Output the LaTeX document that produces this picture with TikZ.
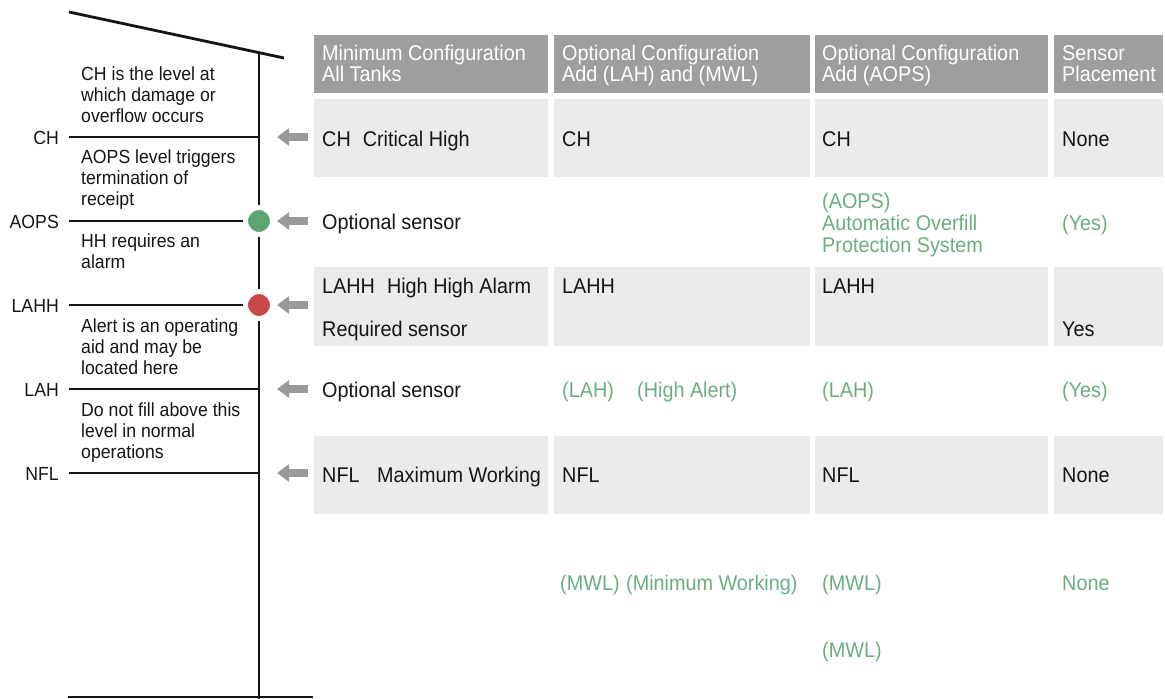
\documentclass[tikz,border=0pt]{standalone}
\usepackage{fontspec}
\setmainfont[FakeStretch=0.93]{Liberation Sans}
\usetikzlibrary{arrows.meta}
\definecolor{hdr}{HTML}{9E9E9E}
\definecolor{cellg}{HTML}{EBEBEB}
\definecolor{grn}{HTML}{6AAE7F}
\definecolor{ink}{HTML}{151515}
\definecolor{arr}{HTML}{9A9A9A}
\definecolor{dotg}{HTML}{5FA574}
\definecolor{dotr}{HTML}{C94848}
\begin{document}
\begin{tikzpicture}[x=1pt,y=-1pt,
  tbl/.style={font=\fontsize{21.3}{22}\selectfont, text=ink, anchor=base west, inner sep=0pt},
  hd/.style={tbl, text=white},
  opt/.style={tbl, text=grn},
  note/.style={font=\fontsize{19}{21}\selectfont, text=ink, anchor=base west, inner sep=0pt},
  lvl/.style={font=\fontsize{19}{21}\selectfont, text=ink, anchor=base east, inner sep=0pt},
  wall/.style={line width=2.8pt, draw=ink},
  levelline/.style={line width=2.6pt, draw=ink},
  pointer/.style={line width=8pt, draw=arr, -{Triangle[width=17pt,length=12pt]}},
  dot/.style={circle, draw=white, line width=5pt, minimum size=27pt, inner sep=0pt},
  hcell/.style={fill=hdr},
  gcell/.style={fill=cellg}]
\useasboundingbox (0,0) rectangle (1165,699);

% ---------- table cells ----------
\foreach \xa/\xb in {314/548,554/810,815/1048,1054/1163}{
  \path[hcell] (\xa,35) rectangle (\xb,93);
  \path[gcell] (\xa,99) rectangle (\xb,177);
  \path[gcell] (\xa,267) rectangle (\xb,346);
  \path[gcell] (\xa,436) rectangle (\xb,514);
}

% ---------- tank ----------
\coordinate (roofL) at (69,12);
\coordinate (roofR) at (284,58);
\coordinate (wallTop) at (259,53);
\coordinate (wallBot) at (259,699);
\coordinate (baseL) at (68,697);
\coordinate (baseR) at (313,697);
\draw[wall] (roofL) -- (roofR);
\draw[wall] (wallTop) -- (wallBot);
\draw[wall] (baseL) -- (baseR);

% level lines
\coordinate (chL) at (69,137);   \coordinate (chR) at (259,137);
\coordinate (aopsL) at (69,221); \coordinate (aopsR) at (259,221);
\coordinate (lahhL) at (69,305); \coordinate (lahhR) at (259,305);
\coordinate (lahL) at (69,389);  \coordinate (lahR) at (259,389);
\coordinate (nflL) at (69,473);  \coordinate (nflR) at (259,473);
\draw[levelline] (chL) -- (chR);
\draw[levelline] (aopsL) -- (aopsR);
\draw[levelline] (lahhL) -- (lahhR);
\draw[levelline] (lahL) -- (lahR);
\draw[levelline] (nflL) -- (nflR);

\node[dot, fill=dotg] (gdot) at (259,221) {};
\node[dot, fill=dotr] (rdot) at (259,305) {};

% level labels
\node[lvl] (lCH) at (59,144) {CH};
\node[lvl] (lAOPS) at (59,228) {AOPS};
\node[lvl] (lLAHH) at (59,312) {LAHH};
\node[lvl] (lLAH) at (59,396) {LAH};
\node[lvl] (lNFL) at (59,480) {NFL};

% notes
\node[note] (n1a) at (81,80) {CH is the level at};
\node[note] (n1b) at (81,101) {which damage or};
\node[note] (n1c) at (81,122) {overflow occurs};
\node[note] (n2a) at (81,163) {AOPS level triggers};
\node[note] (n2b) at (81,184) {termination of};
\node[note] (n2c) at (81,205) {receipt};
\node[note] (n3a) at (81,247) {HH requires an};
\node[note] (n3b) at (81,268) {alarm};
\node[note] (n4a) at (81,332) {Alert is an operating};
\node[note] (n4b) at (81,353) {aid and may be};
\node[note] (n4c) at (81,374) {located here};
\node[note] (n5a) at (81,416) {Do not fill above this};
\node[note] (n5b) at (81,437) {level in normal};
\node[note] (n5c) at (81,458) {operations};

% pointers
\foreach \nm/\yy in {p1/137,p2/221,p3/305,p4/389,p5/473}{
  \coordinate (\nm t) at (308,\yy);
  \coordinate (\nm h) at (277,\yy);
  \draw[pointer] (\nm t) -- (\nm h);
}

% ---------- header ----------
\node[hd] (h1a) at (322,60) {Minimum Configuration};
\node[hd] (h1b) at (322,81) {All Tanks};
\node[hd] (h2a) at (562,60) {Optional Configuration};
\node[hd] (h2b) at (562,81) {Add (LAH) and (MWL)};
\node[hd] (h3a) at (822,60) {Optional Configuration};
\node[hd] (h3b) at (822,81) {Add (AOPS)};
\node[hd] (h4a) at (1062,60) {Sensor};
\node[hd] (h4b) at (1062,81) {Placement};

% ---------- row CH ----------
\node[tbl] (r1a) at (322,146) {CH\hspace{12pt}Critical High};
\node[tbl] (r1b) at (562,146) {CH};
\node[tbl] (r1c) at (822,146) {CH};
\node[tbl] (r1d) at (1062,146) {None};

% ---------- row AOPS ----------
\node[tbl] (r2a) at (322,229) {Optional sensor};
\node[opt] (r2c1) at (822,208) {(AOPS)};
\node[opt] (r2c2) at (822,230) {Automatic Overfill};
\node[opt] (r2c3) at (822,252) {Protection System};
\node[opt] (r2d) at (1062,230) {(Yes)};

% ---------- row LAHH ----------
\node[tbl] (r3a) at (322,293) {LAHH\hspace{12pt}High High Alarm};
\node[tbl] (r3a2) at (322,336) {Required sensor};
\node[tbl] (r3b) at (562,293) {LAHH};
\node[tbl] (r3c) at (822,293) {LAHH};
\node[tbl] (r3d) at (1062,336) {Yes};

% ---------- row LAH ----------
\node[tbl] (r4a) at (322,397) {Optional sensor};
\node[opt] (r4b) at (562,397) {(LAH)};
\node[opt] (r4b2) at (637,397) {(High Alert)};
\node[opt] (r4c) at (822,397) {(LAH)};
\node[opt] (r4d) at (1062,397) {(Yes)};

% ---------- row NFL ----------
\node[tbl] (r5a) at (322,482) {NFL};
\node[tbl] (r5a2) at (377,482) {Maximum Working};
\node[tbl] (r5b) at (562,482) {NFL};
\node[tbl] (r5c) at (822,482) {NFL};
\node[tbl] (r5d) at (1062,482) {None};

% ---------- row MWL ----------
\node[opt] (r6b) at (560,590) {(MWL)};
\node[opt] (r6b2) at (626,590) {(Minimum Working)};
\node[opt] (r6c) at (822,590) {(MWL)};
\node[opt] (r6d) at (1062,590) {None};
\node[opt] (r7c) at (822,657) {(MWL)};
\end{tikzpicture}
\end{document}
